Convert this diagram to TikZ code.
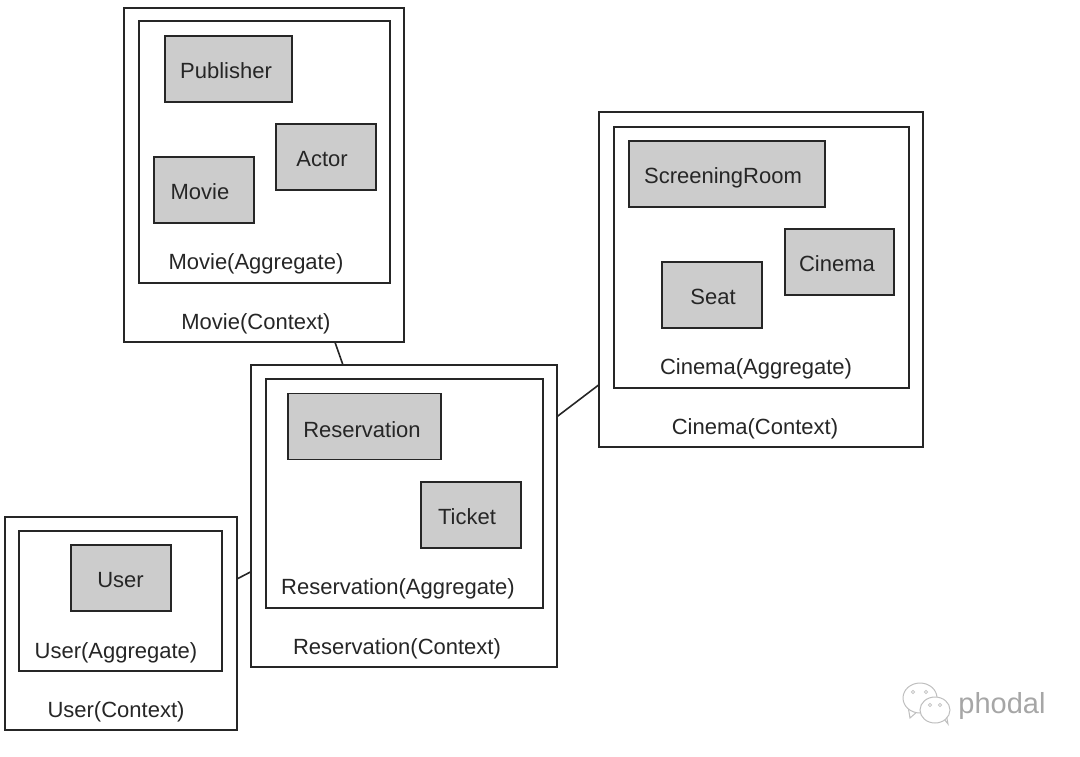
\documentclass[tikz,border=0pt]{standalone}
\usepackage{fontspec}
\setmainfont{Liberation Sans}
\begin{document}
\begin{tikzpicture}[x=1pt, y=-1pt, line width=1.6pt,
        every node/.style={font=\fontsize{22}{26}\selectfont, text=black!85, inner sep=0pt, outer sep=0pt},
        every label/.style={font=\fontsize{22}{26}\selectfont, text=black!85, inner sep=0pt},
        ctxbox/.style={draw=black!85, fill=white, rectangle},
        aggbox/.style={draw=black!85, fill=white, rectangle},
        entbox/.style={draw=black!85, fill=black!20, rectangle, minimum height=66pt},
        bubble/.style={draw=black!25, fill=white, line width=1pt},
        eye/.style={draw=black!25, line width=0.7pt}]
    \useasboundingbox (0,0) rectangle (1080,756);

    % Movie
    \node[ctxbox, minimum width=280pt, minimum height=334pt] (moviectx) at (264,175) {};
    \node[aggbox, minimum width=251pt, minimum height=262pt] (movieagg) at (264.5,152) {};
    \node[entbox, minimum width=127pt, label={[xshift=-2.5pt, yshift=-2pt]center:Publisher}] (publisher) at (228.5,69) {};
    \node[entbox, minimum width=100pt, label={[xshift=-4pt, yshift=-2pt]center:Actor}] (actor) at (326,157) {};
    \node[entbox, minimum width=100pt, label={[xshift=-4pt, yshift=-2pt]center:Movie}] (movie) at (204,190) {};
    \node (movieagglabel) at (256,264) {Movie(Aggregate)};
    \node (moviectxlabel) at (256,324) {Movie(Context)};

    % Cinema
    \node[ctxbox, minimum width=324pt, minimum height=335pt] (cinemactx) at (761,279.5) {};
    \node[aggbox, minimum width=295pt, minimum height=261pt] (cinemaagg) at (761.5,257.5) {};
    \node[entbox, minimum width=196pt, label={[xshift=-4pt, yshift=-4pt]center:ScreeningRoom}] (room) at (727,174) {};
    \node[entbox, minimum width=109pt, label={[xshift=-2.5pt, yshift=-2pt]center:Cinema}] (cinema) at (839.5,262) {};
    \node[entbox, minimum width=100pt, label={[xshift=1pt, yshift=-2pt]center:Seat}] (seat) at (712,295) {};
    \node (cinemaagglabel) at (756,369) {Cinema(Aggregate)};
    \node (cinemactxlabel) at (755,429) {Cinema(Context)};

    % Reservation
    \node[ctxbox, minimum width=306pt, minimum height=302pt] (resctx) at (404,516) {};
    \node[aggbox, minimum width=277pt, minimum height=229pt] (resagg) at (404.5,493.5) {};
    \node[entbox, minimum width=153pt, label={[xshift=-2.5pt, yshift=-3pt]center:Reservation}] (reservation) at (364.5,426.5) {};
    \node[entbox, minimum width=100pt, label={[xshift=-4pt, yshift=-2pt]center:Ticket}] (ticket) at (471,515) {};
    \node (resagglabel) at (398,589) {Reservation(Aggregate)};
    \node (resctxlabel) at (397,649) {Reservation(Context)};

    % User
    \node[ctxbox, minimum width=232pt, minimum height=213pt] (userctx) at (121,623.5) {};
    \node[aggbox, minimum width=203pt, minimum height=140pt] (useragg) at (120.5,601) {};
    \node[entbox, minimum width=100pt, label={[xshift=-0.5pt, yshift=-2pt]center:User}] (user) at (121,578) {};
    \node (useragglabel) at (116,653) {User(Aggregate)};
    \node (userctxlabel) at (116,712) {User(Context)};

    % links between contexts
    \draw[black!85] (moviectx.-67.3) -- (resctx.112.3);
    \draw[black!85] (cinemactx.213.3) -- (resctx.33.4);
    \draw[black!85] (userctx.21) -- (resctx.200.8);

    % logo
    \draw[bubble] (908,706) -- (910,718) -- (918,711);
    \draw[bubble] (920,698) ellipse (17pt and 15pt);
    \draw[bubble] (944,719) -- (948,724) -- (946,713);
    \draw[bubble] (935,710) ellipse (15pt and 13pt);
    \foreach \px/\py in {913/692, 926/692, 930/705, 940/705}
        \draw[eye] (\px,\py) circle (1.7pt);
    \node[text=black!35, font=\fontsize{29}{32}\selectfont] (logotext) at (1002,706) {phodal};
\end{tikzpicture}
\end{document}
